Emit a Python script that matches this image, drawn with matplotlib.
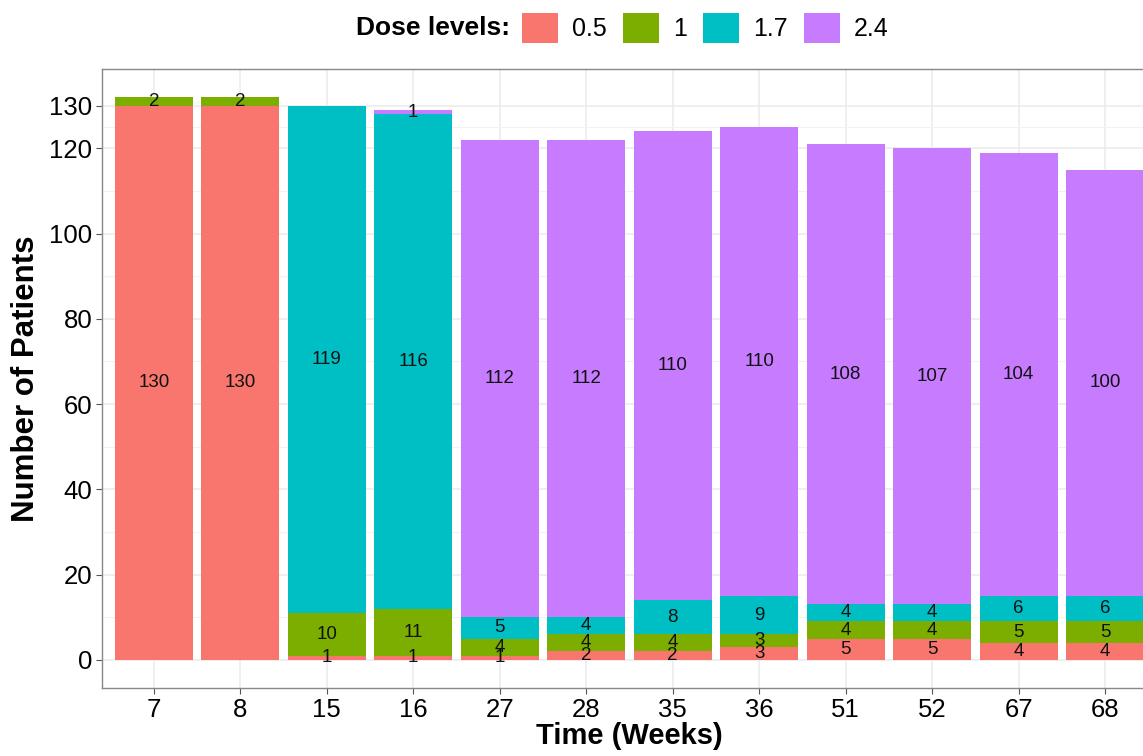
import numpy as np
import matplotlib
matplotlib.use("Agg")
import matplotlib.pyplot as plt
from matplotlib.patches import Patch

plt.rcParams['font.family'] = ['Liberation Sans', 'DejaVu Sans']

# data
weeks = ['7', '8', '15', '16', '27', '28', '35', '36', '51', '52', '67', '68']
dose_levels = ['0.5', '1', '1.7', '2.4']
dose_05 = [130, 130, 1, 1, 1, 2, 2, 3, 5, 5, 4, 4]
dose_1 = [2, 2, 10, 11, 4, 4, 4, 3, 4, 4, 5, 5]
dose_17 = [0, 0, 119, 116, 5, 4, 8, 9, 4, 4, 6, 6]
dose_24 = [0, 0, 0, 1, 112, 112, 110, 110, 108, 107, 104, 100]
colors = ['#F8766D', '#7CAE00', '#00BFC4', '#C77CFF']

W, H = 1143, 756
fig = plt.figure(figsize=(W / 100, H / 100), dpi=100)
# panel in pixels: left 102, right 1157 (cut off), top 69, bottom 688
ax = fig.add_axes([102 / W, (H - 688) / H, (1157 - 102) / W, (688 - 69) / H])

x = np.arange(len(weeks))
bottom = np.zeros(len(weeks))
for vals, col in zip([dose_05, dose_1, dose_17, dose_24], colors):
    vals = np.array(vals)
    ax.bar(x, vals, width=0.9, bottom=bottom, color=col, zorder=2)
    for xi, v, b in zip(x, vals, bottom):
        if v > 0:
            ax.text(xi, b + v / 2, str(v), ha='center', va='center',
                    fontsize=13.5, color='#111111', zorder=3)
    bottom += vals

ax.set_xlim(-0.6, len(weeks) - 0.4)
ax.set_ylim(-6.6, 138.6)
ax.set_xticks(x)
ax.set_xticklabels(weeks)
ax.set_yticks([0, 20, 40, 60, 80, 100, 120, 130])
ax.set_yticks([10, 30, 50, 70, 90, 110, 125], minor=True)

ax.grid(True, which='major', color='#EBEBEB', lw=1.1, zorder=0)
ax.grid(True, which='minor', axis='y', color='#F2F2F2', lw=0.8, zorder=0)
ax.set_axisbelow(True)
for s in ax.spines.values():
    s.set_color('#888888')
    s.set_linewidth(1.0)
ax.tick_params(axis='both', which='major', labelsize=18.5, length=4,
               color='#555555', width=0.8, pad=3, labelcolor='black')
ax.tick_params(axis='both', which='minor', length=0)

ax.set_xlabel('Time (Weeks)', fontsize=21, fontweight='bold', labelpad=0)
ax.set_ylabel('Number of Patients', fontsize=22.5, fontweight='bold', labelpad=6)

# legend on top
fig.text(510 / W, 1 - 28 / H, 'Dose levels:', ha='right', va='center',
         fontsize=19, fontweight='bold')
handles = [Patch(facecolor=c, edgecolor='none') for c in colors]
fig.legend(handles, dose_levels, loc='center left',
           bbox_to_anchor=(522 / W, 1 - 28 / H), ncol=4, frameon=False,
           fontsize=18, handlelength=1.45, handleheight=1.45,
           handletextpad=0.55, columnspacing=0.65, borderpad=0,
           borderaxespad=0)

fig.savefig('out.png', dpi=100)
